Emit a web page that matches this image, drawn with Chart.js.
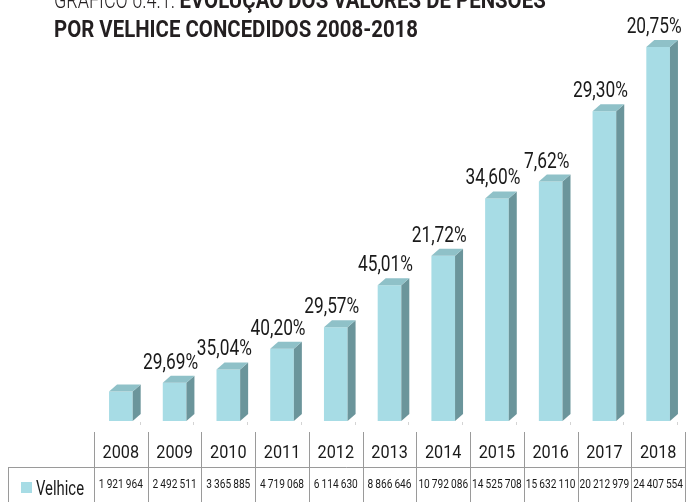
<!DOCTYPE html>
<html>
<head>
<meta charset="utf-8">
<script src="https://cdn.jsdelivr.net/npm/chart.js@4"></script>
<style>
  html, body { margin: 0; padding: 0; background: #fff; }
  canvas { display: block; }
</style>
</head>
<body>
<canvas id="chart" width="697" height="502"></canvas>
<script>
// ---- DATA ----
const years = ['2008','2009','2010','2011','2012','2013','2014','2015','2016','2017','2018'];
const velhice = [1921964, 2492511, 3365885, 4719068, 6114630, 8866646, 10792086, 14525708, 15632110, 20212979, 24407554];
const growthLabels = ['', '29,69%', '35,04%', '40,20%', '29,57%', '45,01%', '21,72%', '34,60%', '7,62%', '29,30%', '20,75%'];
const seriesName = 'Velhice';
const titleLight = 'GRÁFICO 6.4.1. ';
const titleBold1 = 'EVOLUÇÃO DOS VALORES DE PENSÕES';
const titleBold2 = 'POR VELHICE CONCEDIDOS 2008-2018';

// ---- STYLE ----
const ink = '#231f20';
const front = '#a7dce5';
const side = '#6b959b';
const top3d = '#8fc1c8';
const gridGrey = '#9a9a9a';
const depthX = 8, depthY = 7;

function fmt(n) {
  return String(n).replace(/\B(?=(\d{3})+(?!\d))/g, '\u2009');
}

// draw text squeezed horizontally so that `ref` would measure `refWidth`
function squeezeFor(ctx, font, ref, refWidth) {
  ctx.font = font;
  return refWidth / ctx.measureText(ref).width;
}
function drawSqueezed(ctx, text, x, y, sx, align) {
  ctx.save();
  ctx.translate(x, y);
  ctx.scale(sx, 1);
  ctx.textAlign = align || 'left';
  ctx.fillText(text, 0, 0);
  ctx.restore();
}

// ---- 3D BAR FACES ----
const bars3d = {
  id: 'bars3d',
  afterDatasetsDraw(chart) {
    const ctx = chart.ctx;
    chart.getDatasetMeta(0).data.forEach(bar => {
      const { x, y, base, width } = bar.getProps(['x', 'y', 'base', 'width'], true);
      const l = x - width / 2, r = x + width / 2;
      ctx.save();
      // side
      ctx.fillStyle = side;
      ctx.beginPath();
      ctx.moveTo(r, y);
      ctx.lineTo(r + depthX, y - depthY);
      ctx.lineTo(r + depthX, base - depthY);
      ctx.lineTo(r, base);
      ctx.closePath();
      ctx.fill();
      // top
      ctx.fillStyle = top3d;
      ctx.beginPath();
      ctx.moveTo(l, y);
      ctx.lineTo(l + depthX, y - depthY);
      ctx.lineTo(r + depthX, y - depthY);
      ctx.lineTo(r, y);
      ctx.closePath();
      ctx.fill();
      ctx.restore();
    });
  }
};

// ---- GROWTH LABELS, TITLE, DATA TABLE ----
const decorations = {
  id: 'decorations',
  afterDraw(chart) {
    const ctx = chart.ctx;
    const xs = chart.scales.x;
    const area = chart.chartArea;
    const fam = 'Roboto, "Liberation Sans", sans-serif';
    ctx.save();
    ctx.fillStyle = ink;
    ctx.textBaseline = 'alphabetic';

    // growth labels
    const lblFont = '22px ' + fam;
    const lsx = squeezeFor(ctx, lblFont, '20,75%', 55);
    ctx.fillStyle = '#1a1a1a';
    chart.getDatasetMeta(0).data.forEach((bar, i) => {
      if (!growthLabels[i]) return;
      drawSqueezed(ctx, growthLabels[i], bar.x - 4, bar.y - 14, lsx, 'center');
    });

    // title
    ctx.fillStyle = ink;
    const tLight = '300 23px ' + fam;
    const tBold = 'bold 23px ' + fam;
    const sLight = squeezeFor(ctx, tLight, 'GRÁFICO 6.4.1.', 121);
    ctx.font = tLight;
    drawSqueezed(ctx, titleLight, 54, 8, sLight);
    const lightW = ctx.measureText(titleLight).width * sLight;
    const sBold = squeezeFor(ctx, tBold, titleBold2, 364);
    ctx.font = tBold;
    drawSqueezed(ctx, titleBold1, 54 + lightW, 8, sBold);
    drawSqueezed(ctx, titleBold2, 54, 37, sBold);

    // small floor ticks
    const step = (area.right - area.left) / years.length;
    ctx.strokeStyle = '#d4d4d4';
    ctx.lineWidth = 1;
    for (let i = 1; i <= years.length; i++) {
      const bx = Math.round(area.left + i * step - 8) + 0.5;
      ctx.beginPath();
      ctx.moveTo(bx, area.bottom + 1);
      ctx.lineTo(bx, area.bottom + 4);
      ctx.stroke();
    }

    // table grid
    const rowTop = 432, rowMid = 467.5, rowBot = 502;
    ctx.strokeStyle = gridGrey;
    ctx.beginPath();
    for (let i = 0; i <= years.length; i++) {
      const gx = Math.round(area.left + i * step) + 0.5;
      ctx.moveTo(gx, rowTop);
      ctx.lineTo(gx, rowBot);
    }
    ctx.moveTo(8, rowMid);
    ctx.lineTo(Math.round(area.right) + 0.5, rowMid);
    ctx.moveTo(8.5, rowMid);
    ctx.lineTo(8.5, rowBot);
    ctx.stroke();

    // years
    ctx.fillStyle = '#1a1a1a';
    const yFont = '17.5px ' + fam;
    const ysx = squeezeFor(ctx, yFont, '2008', 36.5);
    ctx.font = yFont;
    years.forEach((yr, i) => {
      drawSqueezed(ctx, yr, xs.getPixelForValue(i), 458, ysx, 'center');
    });

    // values
    const vFont = '13.5px ' + fam;
    const vsx = squeezeFor(ctx, vFont, fmt(1921964), 44);
    ctx.font = vFont;
    velhice.forEach((v, i) => {
      drawSqueezed(ctx, fmt(v), xs.getPixelForValue(i), 488, vsx, 'center');
    });

    // legend cell
    ctx.fillStyle = front;
    ctx.fillRect(21, 482, 11, 11);
    ctx.fillStyle = '#1a1a1a';
    const nFont = '21px ' + fam;
    const nsx = squeezeFor(ctx, nFont, seriesName, 48);
    ctx.font = nFont;
    drawSqueezed(ctx, seriesName, 36, 495, nsx);

    ctx.restore();
  }
};

new Chart(document.getElementById('chart'), {
  type: 'bar',
  data: {
    labels: years,
    datasets: [{
      label: seriesName,
      data: velhice,
      backgroundColor: front,
      borderWidth: 0,
      barPercentage: 0.44,
      categoryPercentage: 1,
    }]
  },
  options: {
    responsive: false,
    animation: false,
    layout: { padding: { left: 94, right: 12, top: 38, bottom: 81 } },
    plugins: {
      legend: { display: false },
      tooltip: { enabled: false },
    },
    scales: {
      x: { display: false, offset: true },
      y: { display: false, min: 0, max: 25000000 },
    },
  },
  plugins: [bars3d, decorations],
});
</script>
</body>
</html>
